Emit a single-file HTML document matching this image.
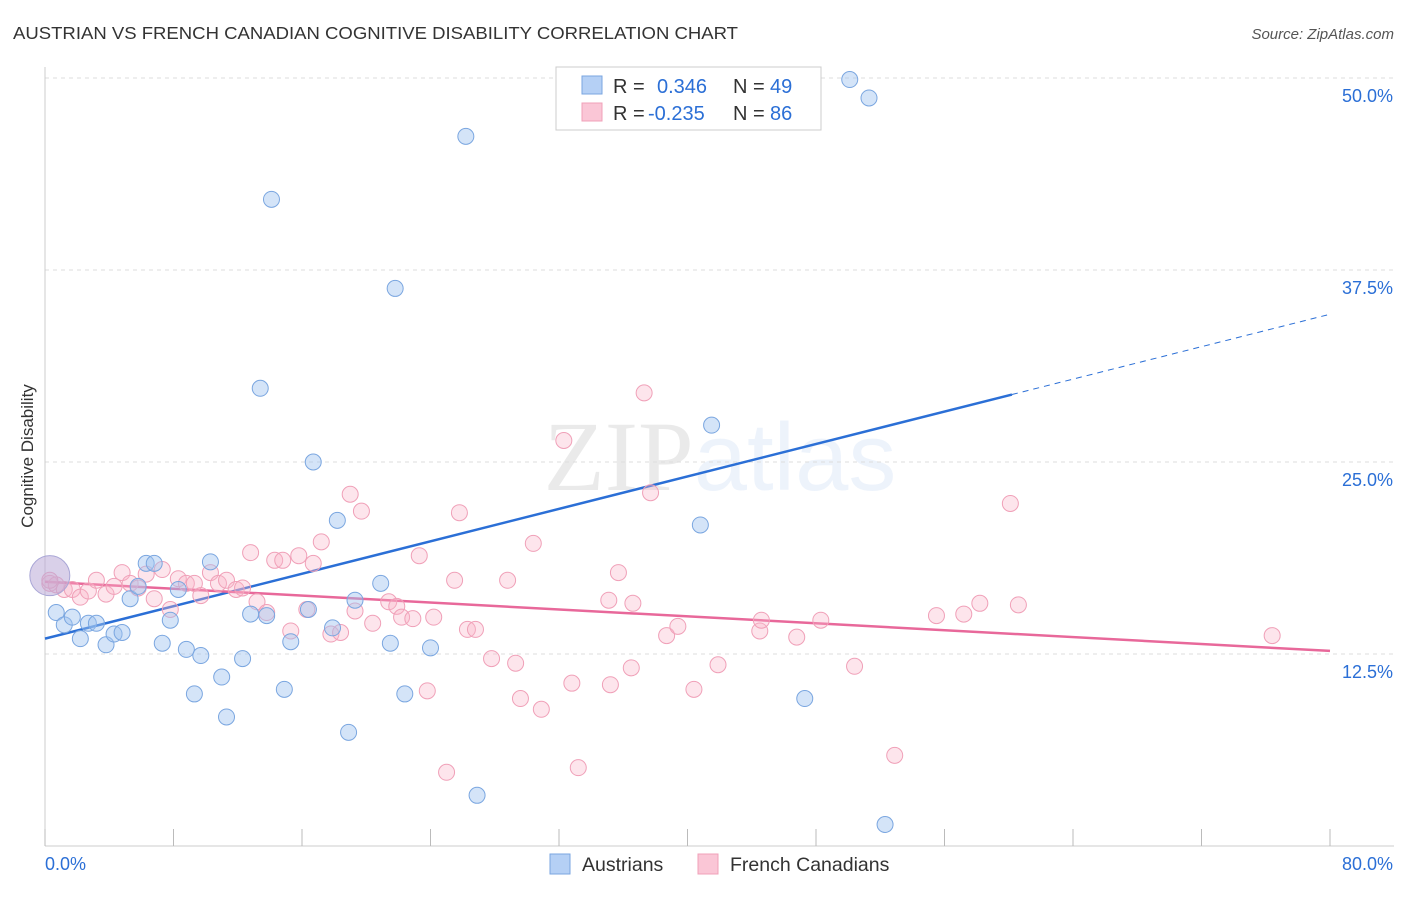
<!DOCTYPE html>
<html><head><meta charset="utf-8"><style>
body{margin:0;background:#fff;font-family:"Liberation Sans",sans-serif;}
svg text{font-family:"Liberation Sans",sans-serif;}
</style></head><body>
<svg id="chart" width="1406" height="892" xmlns="http://www.w3.org/2000/svg">
<text x="13" y="39" font-size="17.5" fill="#333" textLength="725" lengthAdjust="spacingAndGlyphs">AUSTRIAN VS FRENCH CANADIAN COGNITIVE DISABILITY CORRELATION CHART</text>
<text x="1394" y="39" font-size="15" fill="#555" text-anchor="end" font-style="italic">Source: ZipAtlas.com</text>
<text x="720" y="490" font-size="96" text-anchor="middle" fill="#000" opacity="0.08"><tspan font-family="Liberation Serif" font-size="100">ZIP</tspan><tspan fill="#2b6fd6" opacity="1">atlas</tspan></text>
<text transform="translate(33,456) rotate(-90)" font-size="17" fill="#333" text-anchor="middle">Cognitive Disability</text>
<g id="grid"></g><g id="axes"></g><g id="lines"></g><g id="pts"></g>
<g>
<rect x="556" y="67" width="265" height="63" fill="#fff" stroke="#ccc"/>
<rect x="582" y="76" width="20" height="18" fill="#b5d0f5" stroke="#7aa6e0"/>
<rect x="582" y="103" width="20" height="18" fill="#fac6d6" stroke="#f0a0b8"/>
<text x="613" y="93" font-size="20" fill="#333">R = </text><text x="657" y="93" font-size="20" fill="#2b6fd6">0.346</text>
<text x="733" y="93" font-size="20" fill="#333">N = </text><text x="770" y="93" font-size="20" fill="#2b6fd6">49</text>
<text x="613" y="120" font-size="20" fill="#333">R = </text><text x="648" y="120" font-size="20" fill="#2b6fd6">-0.235</text>
<text x="733" y="120" font-size="20" fill="#333">N = </text><text x="770" y="120" font-size="20" fill="#2b6fd6">86</text>
</g>
<g>
<rect x="550" y="854" width="20" height="20" fill="#b5d0f5" stroke="#7aa6e0"/>
<text x="582" y="871" font-size="19.5" fill="#333">Austrians</text>
<rect x="698" y="854" width="20" height="20" fill="#fac6d6" stroke="#f0a0b8"/>
<text x="730" y="871" font-size="19.5" fill="#333">French Canadians</text>
</g>
</svg>
<script>
const yTicks=[12.5,25,37.5,50];
const yTickLabels=["12.5%","25.0%","37.5%","50.0%"];
const xTicks=[0,8,16,24,32,40,48,56,64,72,80];
const austX=[0.3,0.7,1.2,1.7,2.2,2.7,3.2,3.8,4.3,4.8,5.3,5.8,6.3,6.8,7.3,7.8,8.3,8.8,9.3,9.7,10.3,11.0,11.3,12.3,12.8,13.4,13.8,14.1,14.9,15.3,16.4,16.7,17.9,18.2,18.9,19.3,20.9,21.5,21.8,22.4,24.0,26.2,26.9,40.8,41.5,47.3,50.1,51.3,52.3];
const austY=[17.6,15.2,14.4,14.9,13.5,14.5,14.5,13.1,13.8,13.9,16.1,16.9,18.4,18.4,13.2,14.7,16.7,12.8,9.9,12.4,18.5,11.0,8.4,12.2,15.1,29.8,15.0,42.1,10.2,13.3,15.4,25.0,14.2,21.2,7.4,16.0,17.1,13.2,36.3,9.9,12.9,46.2,3.3,20.9,27.4,9.6,49.9,48.7,1.4];
const frX=[0.3,0.7,1.2,1.7,2.2,2.7,3.2,3.8,4.3,4.8,5.3,5.8,6.3,6.8,7.3,7.8,8.3,8.8,9.3,9.7,10.3,10.8,11.3,11.9,12.3,12.8,13.2,13.8,14.3,14.8,15.3,15.8,16.3,16.7,17.2,17.8,18.4,19.0,19.3,19.7,20.4,21.4,21.9,22.2,22.9,23.3,23.8,24.2,25.0,25.5,25.8,26.3,26.8,27.8,28.8,29.3,29.6,30.4,30.9,32.3,32.8,33.2,35.1,35.2,35.7,36.5,36.6,37.3,37.7,38.7,39.4,40.4,41.9,44.5,44.6,46.8,48.3,50.4,52.9,55.5,57.2,58.2,60.1,60.6,76.4,0.3];
const frY=[17.1,17.0,16.7,16.7,16.2,16.6,17.3,16.4,16.9,17.8,17.1,16.8,17.7,16.1,18.0,15.4,17.4,17.1,17.1,16.3,17.8,17.1,17.3,16.7,16.8,19.1,15.9,15.2,18.6,18.6,14.0,18.9,15.4,18.4,19.8,13.8,13.9,22.9,15.3,21.8,14.5,15.9,15.6,14.9,14.8,18.9,10.1,14.9,4.8,17.3,21.7,14.1,14.1,12.2,17.3,11.9,9.6,19.7,8.9,26.4,10.6,5.1,16.0,10.5,17.8,11.6,15.8,29.5,23.0,13.7,14.3,10.2,11.8,14.0,14.7,13.6,14.7,11.7,5.9,15.0,15.1,15.8,22.3,15.7,13.7,17.3];
const austTrend=[13.5,0.264];
const austSolidEnd=60.2;
const frTrend=[17.2,-0.05625];
const NS="http://www.w3.org/2000/svg";
const X=v=>45+v*1285/80, Y=v=>846-v*15.36;
function mk(t,a,p){const e=document.createElementNS(NS,t);for(const k in a)e.setAttribute(k,a[k]);document.getElementById(p).appendChild(e);return e;}
yTicks.forEach((t,i)=>{
 const g=mk('line',{x1:45,x2:1394,y1:Y(t),y2:Y(t),stroke:'#ddd','stroke-dasharray':'4,4'},'grid');
 
 
 const l=mk('text',{x:1393,y:Y(t)+24,'font-size':18,fill:'#2b6fd6','text-anchor':'end'},'axes');l.textContent=yTickLabels[i];
 
 
});
const ax=mk('line',{x1:45,x2:45,y1:67,y2:846,stroke:'#ccc'},'axes');


const bx=mk('line',{x1:45,x2:1394,y1:846,y2:846,stroke:'#ccc'},'axes');


xTicks.forEach(t=>{const k=mk('line',{x1:X(t),x2:X(t),y1:829,y2:846,stroke:'#bbb'},'axes');
 
 });
const xl0=mk('text',{x:45,y:870,'font-size':18,fill:'#2b6fd6'},'axes');xl0.textContent='0.0%';


const xl1=mk('text',{x:1393,y:870,'font-size':18,fill:'#2b6fd6','text-anchor':'end'},'axes');xl1.textContent='80.0%';


frX.forEach((x,i)=>{const c=mk('circle',{cx:X(x),cy:Y(frY[i]),r:8,fill:'rgba(248,180,200,0.35)',stroke:'#f0a0b8','stroke-width':1},'pts');
 
 });
austX.forEach((x,i)=>{const c=mk('circle',{cx:X(x),cy:Y(austY[i]),r:i==0?20:8,fill:i==0?'rgba(185,170,215,0.55)':'rgba(160,196,240,0.45)',stroke:i==0?'#a9a6d6':'#7aa6e0','stroke-width':1},'pts');
 
 });
const fa=a=>austTrend[0]+austTrend[1]*a;
const l1=mk('line',{x1:X(0),y1:Y(fa(0)),x2:X(austSolidEnd),y2:Y(fa(austSolidEnd)),stroke:'#2b6fd6','stroke-width':2.5},'lines');


const l2=mk('line',{x1:X(austSolidEnd),y1:Y(fa(austSolidEnd)),x2:X(80),y2:Y(fa(80)),stroke:'#2b6fd6','stroke-width':1,'stroke-dasharray':'6,5'},'lines');


const ff=a=>frTrend[0]+frTrend[1]*a;
const l3=mk('line',{x1:X(0),y1:Y(ff(0)),x2:X(80),y2:Y(ff(80)),stroke:'#e8689a','stroke-width':2.5},'lines');


</script>
</body></html>
